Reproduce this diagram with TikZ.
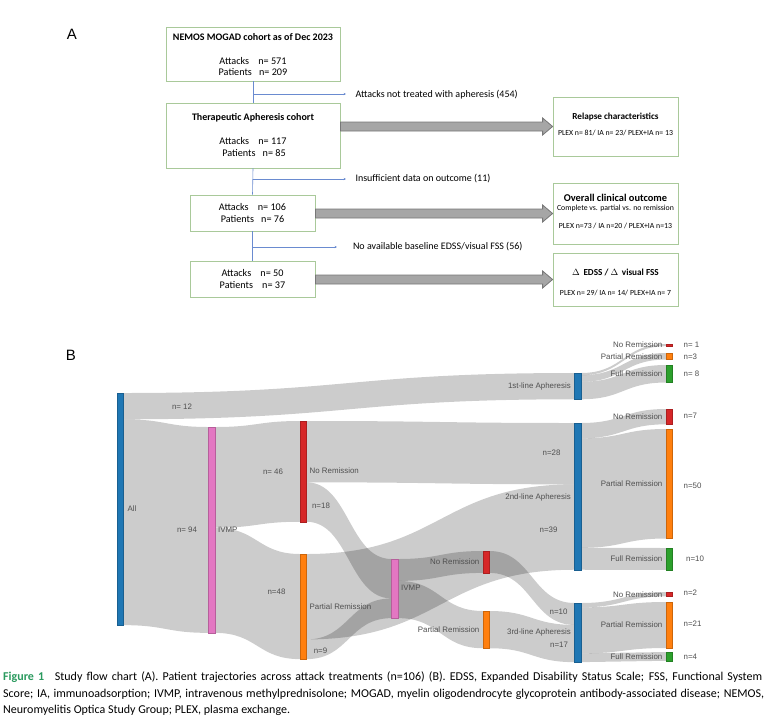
\documentclass[tikz,border=0pt]{standalone}
\usepackage{fontspec}
\setmainfont{Carlito}
\newfontfamily\arialf{Liberation Sans}
\usetikzlibrary{calc,arrows.meta}
\definecolor{plblue}{HTML}{1F77B4}
\definecolor{plorange}{HTML}{FF7F0E}
\definecolor{plgreen}{HTML}{2CA02C}
\definecolor{plred}{HTML}{D62728}
\definecolor{plpink}{HTML}{E377C2}
\definecolor{boxgreen}{HTML}{A9C99A}
\definecolor{connblue}{HTML}{6A8BD0}
\definecolor{arrfill}{HTML}{A6A6A6}
\definecolor{arrdraw}{HTML}{777777}
\definecolor{sktext}{HTML}{505050}
\definecolor{figgreen}{HTML}{2A9A5E}
\newcommand\sklink[6]{\fill[flowlink] (#1,#2) .. controls ({(#1+#4)/2},#2) and ({(#1+#4)/2},#5) .. (#4,#5) -- (#4,#6) .. controls ({(#1+#4)/2},#6) and ({(#1+#4)/2},#3) .. (#1,#3) -- cycle;}
\newcommand\skbar[4]{\fill[#1, draw=#1!80!black, line width=0.3pt] (#2,#3) rectangle ({#2+6.5},#4);}
\tikzset{
  abox/.style={draw=boxgreen, line width=0.8pt, fill=white, inner sep=0pt},
  ttltxt/.style={font=\fontsize{10}{12}\selectfont\bfseries},
  rttltxt/.style={font=\fontsize{9.2}{11}\selectfont\bfseries},
  cnttxt/.style={font=\fontsize{10.2}{12}\selectfont},
  smalltxt/.style={font=\fontsize{7.8}{9}\selectfont},
  sidetxt/.style={font=\fontsize{10}{12}\selectfont, anchor=west},
  connline/.style={draw=connblue, line width=0.6pt},
  branchline/.style={connline, -{Stealth[length=2.4pt,width=2.2pt]}},
  bigarrow/.style={fill=arrfill, draw=arrdraw, line width=0.8pt},
  flowlink/.style={fill=black, fill opacity=0.2},
  sktxt/.style={font=\arialf\fontsize{7.9}{9}\selectfont, text=sktext, inner sep=0.5pt},
  paneltxt/.style={font=\arialf\fontsize{15}{17}\selectfont},
  captxt/.style={font=\fontsize{12}{14}\selectfont, anchor=west, inner sep=0pt}
}
\begin{document}
\begin{tikzpicture}[x=1pt,y=-1pt]
\useasboundingbox (0,0) rectangle (771,724);
\fill[white] (0,0) rectangle (771,724);
% ---------------- Panel A ----------------
\node[paneltxt] (labA) at (72,34) {A};
\node[abox, minimum width=174pt, minimum height=54pt] (box1) at (253,54) {};
\node[abox, minimum width=174pt, minimum height=65pt] (box2) at (253,135.5) {};
\node[abox, minimum width=125pt, minimum height=36pt] (box3) at (252.5,213) {};
\node[abox, minimum width=125pt, minimum height=36pt] (box4) at (252.5,279) {};
\node[abox, minimum width=125pt, minimum height=59pt] (rb1) at (615.5,126.5) {};
\node[abox, minimum width=125pt, minimum height=61pt] (rb2) at (615.5,213.5) {};
\node[abox, minimum width=125pt, minimum height=53pt] (rb3) at (615.5,279.5) {};
% texts
\node[ttltxt] (t1) at (253,37) {NEMOS MOGAD cohort as of Dec 2023};
\node[cnttxt] (t1a) at (253,61) {Attacks\hspace{0.9em}n= 571};
\node[cnttxt] (t1b) at (253,72.5) {Patients\hspace{0.7em}n= 209};
\node[ttltxt] (t2) at (253,118) {Therapeutic Apheresis cohort};
\node[cnttxt] (t2a) at (253,141) {Attacks\hspace{0.9em}n= 117};
\node[cnttxt] (t2b) at (254,153) {Patients\hspace{0.7em}n= 85};
\node[cnttxt] (t3a) at (252.5,207) {Attacks\hspace{0.9em}n= 106};
\node[cnttxt] (t3b) at (252.5,219) {Patients\hspace{0.7em}n= 76};
\node[cnttxt] (t4a) at (252.5,273) {Attacks\hspace{0.9em}n= 50};
\node[cnttxt] (t4b) at (252.5,285) {Patients\hspace{0.9em}n= 37};
\node[rttltxt] (r1) at (615.5,117) {Relapse characteristics};
\node[smalltxt] (r1a) at (615.5,133) {PLEX n= 81/ IA n= 23/ PLEX+IA n= 13};
\node[rttltxt, font=\fontsize{10.4}{12}\selectfont\bfseries] (r2) at (615.5,198) {Overall clinical outcome};
\node[smalltxt] (r2a) at (615.5,208.5) {Complete vs. partial vs. no remission};
\node[smalltxt] (r2b) at (615.5,226) {PLEX n=73 / IA n=20 / PLEX+IA n=13};
\node[rttltxt] (r3) at (615.5,272) {$\Delta$\,\ EDSS / $\Delta$\,\ visual FSS};
\node[smalltxt] (r3a) at (615.5,293) {PLEX n= 29/ IA n= 14/ PLEX+IA n= 7};
% connectors
\draw[connline] (box1.south) -- (box2.north);
\draw[connline] (box2.south) -- (box3.north);
\draw[connline] (box3.south) -- (box4.north);
\coordinate (b1) at (253,94);
\coordinate (e1) at (346,94);
\coordinate (b2) at (253,179);
\coordinate (e2) at (346,179);
\coordinate (b3) at (253,247);
\coordinate (e3) at (337,247);
\draw[branchline] (b1) -- (e1);
\draw[branchline] (b2) -- (e2);
\draw[branchline] (b3) -- (e3);
\node[sidetxt] (s1) at (352,95) {Attacks not treated with apheresis (454)};
\node[sidetxt] (s2) at (352,179) {Insufficient data on outcome (11)};
\node[sidetxt] (s3) at (349.5,247) {No available baseline EDSS/visual FSS (56)};
% big arrows
\coordinate (a1) at (box2.east |- rb1.west);
\coordinate (a2) at (box3.east |- rb2.west);
\coordinate (a3) at (box4.east |- rb3.west);
\foreach \s/\t in {a1/rb1, a2/rb2, a3/rb3}{
  \draw[bigarrow] ($(\s)+(0,-4.5)$) -- ($(\t.west)+(-10,-4.5)$) -- ($(\t.west)+(-10,-8.5)$) -- (\t.west) -- ($(\t.west)+(-10,8.5)$) -- ($(\t.west)+(-10,4.5)$) -- ($(\s)+(0,4.5)$) -- cycle;
}
% ---------------- Panel B ----------------
\node[paneltxt] (labB) at (71,355) {B};
% links
\sklink{123.5}{393}{419.28}{574.5}{373}{399.28}
\sklink{123.5}{419.28}{625.14}{208.5}{427}{632.86}
\sklink{215}{427}{527.74}{300}{421}{521.74}
\sklink{215}{527.74}{632.86}{300}{554}{659.12}
\sklink{306.5}{421}{482.32}{574.5}{423}{484.32}
\sklink{306.5}{482.32}{521.74}{391.5}{559}{598.42}
\sklink{306.5}{554}{639.41}{574.5}{484.32}{569.73}
\sklink{306.5}{639.41}{659.12}{391.5}{598.42}{618.13}
\sklink{398}{559}{580.9}{483}{551}{572.9}
\sklink{398}{580.9}{618.13}{483}{611}{648.23}
\sklink{489.5}{551}{572.9}{574.5}{603}{624.9}
\sklink{489.5}{611}{648.23}{574.5}{624.9}{662.13}
\sklink{581}{373}{375.19}{666}{344}{346.19}
\sklink{581}{375.19}{381.76}{666}{353}{359.57}
\sklink{581}{381.76}{399.28}{666}{365}{382.52}
\sklink{581}{423}{438.33}{666}{409}{424.33}
\sklink{581}{438.33}{547.83}{666}{429}{538.5}
\sklink{581}{547.83}{569.73}{666}{548}{569.9}
\sklink{581}{603}{607.38}{666}{592}{596.38}
\sklink{581}{607.38}{653.37}{666}{602}{648}
\sklink{581}{653.37}{662.13}{666}{652}{660.76}
% bars
\skbar{plblue}{117}{393}{625.14}
\skbar{plpink}{208.5}{427}{632.86}
\skbar{plred}{300}{421}{521.74}
\skbar{plorange}{300}{554}{659.12}
\skbar{plpink}{391.5}{559}{618.13}
\skbar{plred}{483}{551}{572.9}
\skbar{plorange}{483}{611}{648.23}
\skbar{plblue}{574.5}{373}{399.28}
\skbar{plblue}{574.5}{423}{569.73}
\skbar{plblue}{574.5}{603}{662.13}
\skbar{plred}{666}{344}{346.19}
\skbar{plorange}{666}{353}{359.57}
\skbar{plgreen}{666}{365}{382.52}
\skbar{plred}{666}{409}{424.33}
\skbar{plorange}{666}{429}{538.5}
\skbar{plgreen}{666}{548}{569.9}
\skbar{plred}{666}{592}{596.38}
\skbar{plorange}{666}{602}{648}
\skbar{plgreen}{666}{652}{660.76}
% node labels
\node[sktxt, anchor=west] (nAll) at (127,509) {All};
\node[sktxt, anchor=west] (nIV1) at (217.5,530) {IVMP};
\node[sktxt, anchor=west] (nNR1) at (309,471) {No Remission};
\node[sktxt, anchor=west] (nPR1) at (309,607) {Partial Remission};
\node[sktxt, anchor=west] (nIV2) at (400.5,588) {IVMP};
\node[sktxt, anchor=east] (nNR2) at (480,562) {No Remission};
\node[sktxt, anchor=east] (nPR2) at (480,629.5) {Partial Remission};
\node[sktxt, anchor=east] (nL1) at (571.5,386) {1st-line Apheresis};
\node[sktxt, anchor=east] (nL2) at (571.5,497) {2nd-line Apheresis};
\node[sktxt, anchor=east] (nL3) at (571.5,632.5) {3rd-line Apheresis};
\node[sktxt, anchor=east] (oNRa) at (663,345) {No Remission};
\node[sktxt, anchor=east] (oPRa) at (663,356.3) {Partial Remission};
\node[sktxt, anchor=east] (oFRa) at (663,373.8) {Full Remission};
\node[sktxt, anchor=east] (oNRb) at (663,416.7) {No Remission};
\node[sktxt, anchor=east] (oPRb) at (663,483.8) {Partial Remission};
\node[sktxt, anchor=east] (oFRb) at (663,559) {Full Remission};
\node[sktxt, anchor=east] (oNRc) at (663,594.2) {No Remission};
\node[sktxt, anchor=east] (oPRc) at (663,625) {Partial Remission};
\node[sktxt, anchor=east] (oFRc) at (663,656.4) {Full Remission};
% outcome counts
\node[sktxt, anchor=west] (cNRa) at (683,345) {n= 1};
\node[sktxt, anchor=west] (cPRa) at (683,357) {n=3};
\node[sktxt, anchor=west] (cFRa) at (683,374) {n= 8};
\node[sktxt, anchor=west] (cNRb) at (683,416) {n=7};
\node[sktxt, anchor=west] (cPRb) at (683,486) {n=50};
\node[sktxt, anchor=west] (cFRb) at (685.5,559) {n=10};
\node[sktxt, anchor=west] (cNRc) at (683,593) {n=2};
\node[sktxt, anchor=west] (cPRc) at (683,624) {n=21};
\node[sktxt, anchor=west] (cFRc) at (683,657) {n=4};
% flow counts
\node[sktxt] (f12) at (182,407) {n= 12};
\node[sktxt] (f94) at (187,530) {n= 94};
\node[sktxt] (f46) at (273,472) {n= 46};
\node[sktxt] (f48) at (276.5,592) {n=48};
\node[sktxt] (f18) at (321,506) {n=18};
\node[sktxt] (f9) at (320.5,651) {n=9};
\node[sktxt] (f28) at (551.5,453) {n=28};
\node[sktxt] (f39) at (548.5,530) {n=39};
\node[sktxt] (f10) at (558.5,612) {n=10};
\node[sktxt] (f17) at (559,645) {n=17};
% ---------------- Caption ----------------
\node[captxt] (cap1) at (3,677) {\makebox[759pt][s]{\textcolor{figgreen}{\bfseries Figure 1}\hspace{0.9em}Study flow chart (A). Patient trajectories across attack treatments (n=106) (B). EDSS, Expanded Disability Status Scale; FSS, Functional System}};
\node[captxt] (cap2) at (3,694) {\makebox[761pt][s]{Score; IA, immunoadsorption; IVMP, intravenous methylprednisolone; MOGAD, myelin oligodendrocyte glycoprotein antibody-associated disease; NEMOS,}};
\node[captxt] (cap3) at (3,710) {Neuromyelitis Optica Study Group; PLEX, plasma exchange.};
\end{tikzpicture}
\end{document}
